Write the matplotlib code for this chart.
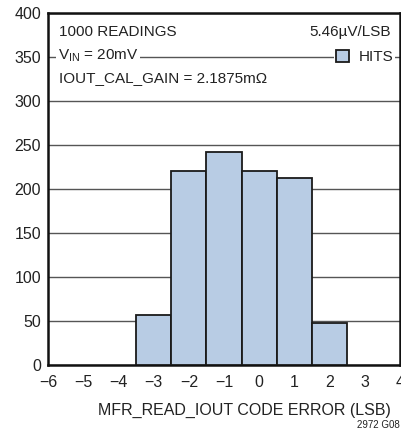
import matplotlib
matplotlib.use('Agg')
import matplotlib.pyplot as plt

plt.rcParams['font.family'] = ['Liberation Sans Narrow', 'Liberation Sans', 'DejaVu Sans']
plt.rcParams['mathtext.fontset'] = 'custom'
plt.rcParams['mathtext.rm'] = 'Liberation Sans'

# histogram data: code error (LSB) vs number of hits
code_error = [-3, -2, -1, 0, 1, 2]
hits = [57, 221, 242, 221, 212, 48]
x_ticks = [-6, -5, -4, -3, -2, -1, 0, 1, 2, 3, 4]
y_ticks = [0, 50, 100, 150, 200, 250, 300, 350, 400]

fig = plt.figure(figsize=(4.01, 4.32), dpi=100)
ax = fig.add_axes([0.1197, 0.155, 0.878, 0.815])

bars = ax.bar(code_error, hits, width=1.0, color='#b8cce4', edgecolor='#1a1a1a',
              linewidth=1.3, label='HITS', zorder=3)

ax.set_xlim(-6, 4)
ax.set_ylim(0, 400)
ax.set_xticks(x_ticks)
ax.set_yticks(y_ticks)
ax.tick_params(length=0, labelsize=11.5, colors='#222222')
ax.tick_params(axis='x', pad=7)
ax.tick_params(axis='y', pad=5)
ax.yaxis.grid(True, color='#555555', linewidth=1.0, zorder=0)
ax.set_axisbelow(True)
for s in ax.spines.values():
    s.set_linewidth(1.8)
    s.set_color('#111111')

ax.set_xlabel('MFR_READ_IOUT CODE ERROR (LSB)', fontsize=11.5, color='#222222')
ax.xaxis.set_label_coords(0.558, -0.128)
ax.xaxis.label.set_va('center')

# annotations inside the plot
fs = 11
box = dict(facecolor='white', edgecolor='none', pad=1.0)
ax.text(0.03, 0.945, '1000 READINGS', transform=ax.transAxes, fontsize=fs,
        va='center', ha='left', color='#222222', zorder=4)
ax.text(0.028, 0.88, r'V$_{\mathregular{IN}}$ = 20mV', transform=ax.transAxes, fontsize=fs,
        va='center', ha='left', color='#222222', bbox=box, zorder=4)
ax.text(0.03, 0.815, 'IOUT_CAL_GAIN = 2.1875m\u03a9', transform=ax.transAxes, fontsize=fs,
        va='center', ha='left', color='#222222', zorder=4)
ax.text(0.975, 0.945, '5.46\u00b5V/LSB', transform=ax.transAxes, fontsize=fs,
        va='center', ha='right', color='#222222', zorder=4)

leg = ax.legend(handles=[bars], loc='center right', bbox_to_anchor=(0.985, 0.875),
                fontsize=fs, frameon=True, fancybox=False, framealpha=1,
                edgecolor='none', facecolor='white', handlelength=0.9, handleheight=0.9,
                handletextpad=0.6, borderpad=0.1, borderaxespad=0)
leg.set_zorder(5)
for t in leg.get_texts():
    t.set_color('#222222')

fig.text(0.997, 0.016, '2972 G08', fontsize=7, ha='right', va='center', color='#222222')

fig.savefig('out.png', dpi=100)
